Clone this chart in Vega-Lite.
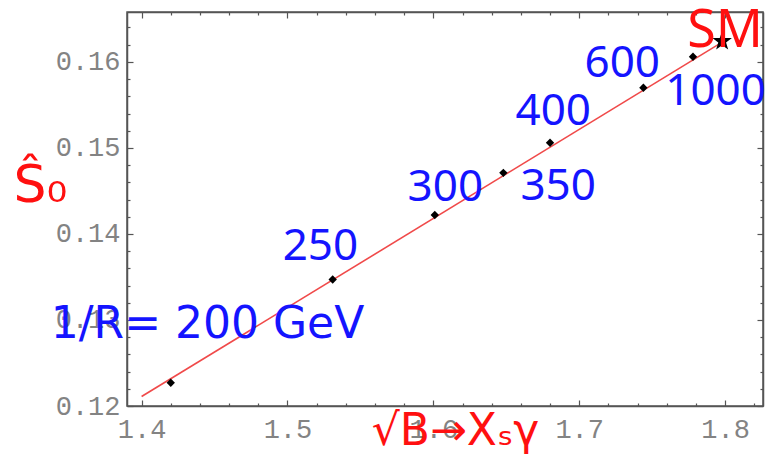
{
  "$schema": "https://vega.github.io/schema/vega-lite/v6.json",
  "width": 636,
  "height": 394,
  "autosize": {"type": "none"},
  "padding": {"left": 127, "top": 12, "right": 4, "bottom": 63},
  "background": "white",
  "config": {
    "view": {"stroke": "#555555", "strokeWidth": 1.5},
    "axis": {
      "grid": false,
      "domainColor": "#555555",
      "domainWidth": 1.5,
      "tickColor": "#555555",
      "tickWidth": 1.2,
      "labelFont": "Liberation Mono",
      "labelFontSize": 27,
      "labelColor": "#838383",
      "labelFlush": false,
      "labelOverlap": false
    }
  },
  "datasets": {
    "points": [
      {"x": 1.420, "y": 0.1227, "inv_R": 200},
      {"x": 1.531, "y": 0.1347, "inv_R": 250},
      {"x": 1.601, "y": 0.1422, "inv_R": 300},
      {"x": 1.648, "y": 0.1471, "inv_R": 350},
      {"x": 1.680, "y": 0.1506, "inv_R": 400},
      {"x": 1.744, "y": 0.1570, "inv_R": 600},
      {"x": 1.778, "y": 0.1606, "inv_R": 1000}
    ],
    "smpoint": [{"x": 1.798, "y": 0.1624}],
    "fit": [{"x": 1.40, "y": 0.1211}, {"x": 1.80, "y": 0.1625}],
    "notes": [
      {"x": 1.5226, "y": 0.1385, "text": "250"},
      {"x": 1.6082, "y": 0.1453, "text": "300"},
      {"x": 1.6856, "y": 0.1455, "text": "350"},
      {"x": 1.6822, "y": 0.1542, "text": "400"},
      {"x": 1.7295, "y": 0.1597, "text": "600"},
      {"x": 1.7935, "y": 0.1565, "text": "1000"}
    ],
    "rnote": [{"x": 1.4452, "y": 0.1294, "text": "1/R= 200 GeV"}],
    "smnote": [{"x": 1.800, "y": 0.1636, "text": "SM"}]
  },
  "layer": [
    {
      "data": {"name": "fit"},
      "mark": {"type": "line", "color": "#f04a4a", "strokeWidth": 1.6},
      "encoding": {
        "x": {
          "field": "x", "type": "quantitative",
          "scale": {"domain": [1.39, 1.826], "nice": false, "zero": false},
          "axis": {
            "orient": "bottom",
            "values": [1.4, 1.42, 1.44, 1.46, 1.48, 1.5, 1.52, 1.54, 1.56, 1.58, 1.6, 1.62, 1.64, 1.66, 1.68, 1.7, 1.72, 1.74, 1.76, 1.78, 1.8, 1.82],
            "labelExpr": "abs(datum.value*10 - round(datum.value*10)) < 0.001 ? format(datum.value, '.1f') : ''",
            "tickSize": {"condition": {"test": "abs(datum.value*10 - round(datum.value*10)) < 0.001", "value": -6}, "value": -3},
            "labelPadding": 16,
            "title": "√B→Xₛγ", "titleColor": "#ff1010", "titleFont": "DejaVu Sans",
            "titleFontSize": 44, "titleFontWeight": "normal",
            "titleX": 328, "titleY": 25, "titleAlign": "center", "titleBaseline": "middle"
          }
        },
        "y": {
          "field": "y", "type": "quantitative",
          "scale": {"domain": [0.12, 0.1658], "nice": false, "zero": false},
          "axis": {
            "orient": "left",
            "values": [0.12, 0.122, 0.124, 0.126, 0.128, 0.13, 0.132, 0.134, 0.136, 0.138, 0.14, 0.142, 0.144, 0.146, 0.148, 0.15, 0.152, 0.154, 0.156, 0.158, 0.16, 0.162, 0.164],
            "labelExpr": "abs(datum.value*100 - round(datum.value*100)) < 0.001 ? format(datum.value, '.2f') : ''",
            "tickSize": {"condition": {"test": "abs(datum.value*100 - round(datum.value*100)) < 0.001", "value": -6}, "value": -3},
            "labelPadding": 13,
            "title": "Ŝ₀", "titleColor": "#ff1010", "titleFont": "DejaVu Sans",
            "titleFontSize": 52, "titleFontWeight": "normal", "titleAngle": 0,
            "titleX": -87, "titleY": 173, "titleAlign": "center", "titleBaseline": "middle"
          }
        }
      }
    },
    {
      "data": {"name": "points"},
      "mark": {"type": "point", "shape": "diamond", "filled": true, "color": "black", "size": 70, "opacity": 1},
      "encoding": {
        "x": {"field": "x", "type": "quantitative",
          "axis": {"orient": "top",
            "values": [1.4, 1.42, 1.44, 1.46, 1.48, 1.5, 1.52, 1.54, 1.56, 1.58, 1.6, 1.62, 1.64, 1.66, 1.68, 1.7, 1.72, 1.74, 1.76, 1.78, 1.8, 1.82],
            "labels": false,
            "tickSize": {"condition": {"test": "abs(datum.value*10 - round(datum.value*10)) < 0.001", "value": -6}, "value": -3},
            "title": null}},
        "y": {"field": "y", "type": "quantitative",
          "axis": {"orient": "right",
            "values": [0.12, 0.122, 0.124, 0.126, 0.128, 0.13, 0.132, 0.134, 0.136, 0.138, 0.14, 0.142, 0.144, 0.146, 0.148, 0.15, 0.152, 0.154, 0.156, 0.158, 0.16, 0.162, 0.164],
            "labels": false,
            "tickSize": {"condition": {"test": "abs(datum.value*100 - round(datum.value*100)) < 0.001", "value": -6}, "value": -3},
            "title": null}}
      }
    },
    {
      "data": {"name": "smpoint"},
      "mark": {"type": "point", "shape": "M0,-1L0.235,-0.324L0.951,-0.309L0.38,0.124L0.588,0.809L0,0.4L-0.588,0.809L-0.38,0.124L-0.951,-0.309L-0.235,-0.324Z", "filled": true, "color": "black", "size": 420, "opacity": 1},
      "encoding": {
        "x": {"field": "x", "type": "quantitative", "axis": null},
        "y": {"field": "y", "type": "quantitative", "axis": null}
      }
    },
    {
      "data": {"name": "notes"},
      "mark": {"type": "text", "color": "#1414ff", "font": "Noto Sans", "fontSize": 44, "align": "center", "baseline": "middle"},
      "encoding": {
        "x": {"field": "x", "type": "quantitative", "axis": null},
        "y": {"field": "y", "type": "quantitative", "axis": null},
        "text": {"field": "text", "type": "nominal"}
      }
    },
    {
      "data": {"name": "rnote"},
      "mark": {"type": "text", "color": "#1414ff", "font": "DejaVu Sans", "fontSize": 44, "align": "center", "baseline": "middle"},
      "encoding": {
        "x": {"field": "x", "type": "quantitative", "axis": null},
        "y": {"field": "y", "type": "quantitative", "axis": null},
        "text": {"field": "text", "type": "nominal"}
      }
    },
    {
      "data": {"name": "smnote"},
      "mark": {"type": "text", "color": "#ff1010", "font": "Noto Sans", "fontSize": 52, "align": "center", "baseline": "middle"},
      "encoding": {
        "x": {"field": "x", "type": "quantitative", "axis": null},
        "y": {"field": "y", "type": "quantitative", "axis": null},
        "text": {"field": "text", "type": "nominal"}
      }
    }
  ],
  "resolve": {"axis": {"x": "independent", "y": "independent"}}
}
